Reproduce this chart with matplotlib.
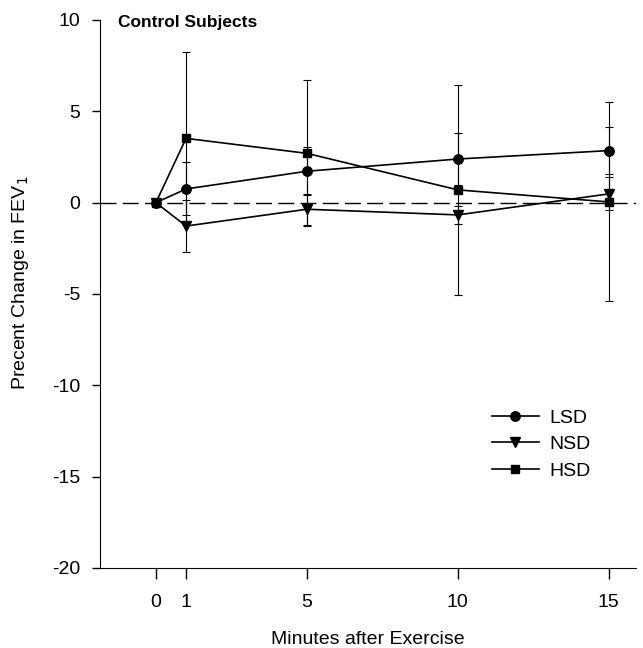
import matplotlib
matplotlib.use("Agg")
import matplotlib.pyplot as plt

plt.rcParams['font.family'] = ['Liberation Sans', 'DejaVu Sans']
plt.rcParams['axes.unicode_minus'] = False

minutes = [0, 1, 5, 10, 15]
lsd = [0, 0.75, 1.72, 2.39, 2.85]
lsd_err = [0, 1.45, 1.32, 1.41, 1.3]
nsd = [0, -1.28, -0.36, -0.67, 0.48]
nsd_err = [0, 1.4, 0.86, 0.5, 0.9]
hsd = [0, 3.52, 2.7, 0.7, 0.04]
hsd_err = [0, 4.75, 4.0, 5.74, 5.45]
x_ticks = [0, 1, 5, 10, 15]
y_ticks = [-20, -15, -10, -5, 0, 5, 10]

fig = plt.figure(figsize=(6.43, 6.48), dpi=100)
ax = fig.add_axes([100/643, 1-568/648, 536/643, 548/648])

ax.axhline(0, color='black', lw=1.0, dashes=(11.5, 4.5), zorder=1)

kw = dict(color='black', lw=1.2, elinewidth=0.8, capsize=3, capthick=0.8)
c1 = ax.errorbar(minutes, lsd, yerr=lsd_err, marker='o', markersize=6.8, label='LSD', **kw)
c2 = ax.errorbar(minutes, nsd, yerr=nsd_err, marker='v', markersize=7, label='NSD', **kw)
c3 = ax.errorbar(minutes, hsd, yerr=hsd_err, marker='s', markersize=6.2, label='HSD', **kw)

ax.set_xlim(-1.85, 15.9)
ax.set_ylim(-20, 10)
ax.set_xticks(x_ticks)
ax.set_yticks(y_ticks)
ax.spines['top'].set_visible(False)
ax.spines['right'].set_visible(False)
ax.tick_params(axis='y', direction='out', length=6, width=1, labelsize=14, pad=8)
ax.tick_params(axis='x', direction='out', length=8, width=1, labelsize=14, pad=11)
ax.set_xlabel('Minutes after Exercise', fontsize=14, labelpad=14)
ax.set_ylabel('Precent Change in FEV$_1$', fontsize=14)
ax.yaxis.set_label_coords(-0.1285, 0.52)
fig.text(118/643, 1-15/648, 'Control Subjects', fontsize=12.5,
         fontweight='bold', va='top', ha='left')

leg = ax.legend(handles=[c1[0], c2[0], c3[0]], labels=['LSD', 'NSD', 'HSD'],
                frameon=False, loc='upper left',
                bbox_to_anchor=(492/643, 1-409/648),
                bbox_transform=fig.transFigure, fontsize=14, handlelength=2.4,
                labelspacing=0.46, handletextpad=0.55, borderpad=0, borderaxespad=0)

fig.savefig('out.png', dpi=100)
